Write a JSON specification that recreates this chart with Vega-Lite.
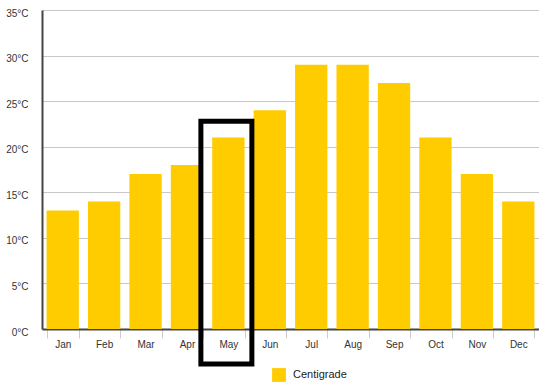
{
  "$schema": "https://vega.github.io/schema/vega-lite/v6.json",
  "autosize": "none",
  "width": 497,
  "height": 319,
  "padding": {"left": 42, "top": 10, "right": 0, "bottom": 56},
  "background": "white",
  "config": {
    "view": {"stroke": null},
    "font": "Liberation Sans"
  },
  "datasets": {
    "temps": [
      {"month": "Jan", "temp": 13},
      {"month": "Feb", "temp": 14},
      {"month": "Mar", "temp": 17},
      {"month": "Apr", "temp": 18},
      {"month": "May", "temp": 21},
      {"month": "Jun", "temp": 24},
      {"month": "Jul", "temp": 29},
      {"month": "Aug", "temp": 29},
      {"month": "Sep", "temp": 27},
      {"month": "Oct", "temp": 21},
      {"month": "Nov", "temp": 17},
      {"month": "Dec", "temp": 14}
    ],
    "highlight": [
      {"month": "May", "top": 22.8, "bottom": -3.85}
    ]
  },
  "layer": [
    {
      "data": {"name": "temps"},
      "mark": {"type": "bar"},
      "encoding": {
        "x": {
          "field": "month",
          "type": "ordinal",
          "sort": ["Jan", "Feb", "Mar", "Apr", "May", "Jun", "Jul", "Aug", "Sep", "Oct", "Nov", "Dec"],
          "scale": {"paddingInner": 0.22, "paddingOuter": 0.11},
          "axis": {
            "title": null,
            "labelAngle": 0,
            "labelFontSize": 10,
            "labelColor": "#333333",
            "labelPadding": 1,
            "domainColor": "#444444",
            "domainWidth": 2,
            "tickBand": "extent",
            "tickColor": "#cccccc",
            "tickSize": 9,
            "grid": false
          }
        },
        "y": {
          "field": "temp",
          "type": "quantitative",
          "scale": {"domain": [0, 35], "nice": false},
          "axis": {
            "title": null,
            "values": [0, 5, 10, 15, 20, 25, 30, 35],
            "labelExpr": "datum.value + '°C'",
            "labelFontSize": 10,
            "labelColor": "#333333",
            "labelPadding": 14,
            "labelOffset": 3,
            "ticks": false,
            "domainColor": "#444444",
            "domainWidth": 2,
            "gridColor": "#c8c8c8",
            "gridWidth": 1
          }
        },
        "color": {
          "datum": "Centigrade",
          "scale": {"range": ["#FFCC00"]},
          "legend": {
            "title": null,
            "orient": "none",
            "legendX": 230,
            "legendY": 358,
            "symbolType": "square",
            "symbolSize": 190,
            "symbolStrokeWidth": 0,
            "labelFontSize": 11,
            "labelColor": "#222222",
            "labelOffset": 7
          }
        }
      }
    },
    {
      "data": {"name": "highlight"},
      "mark": {"type": "bar", "filled": false, "stroke": "black", "strokeWidth": 5, "width": 51, "xOffset": -2, "clip": false},
      "encoding": {
        "x": {
          "field": "month",
          "type": "ordinal",
          "sort": ["Jan", "Feb", "Mar", "Apr", "May", "Jun", "Jul", "Aug", "Sep", "Oct", "Nov", "Dec"]
        },
        "y": {"field": "top", "type": "quantitative"},
        "y2": {"field": "bottom"}
      }
    }
  ]
}
